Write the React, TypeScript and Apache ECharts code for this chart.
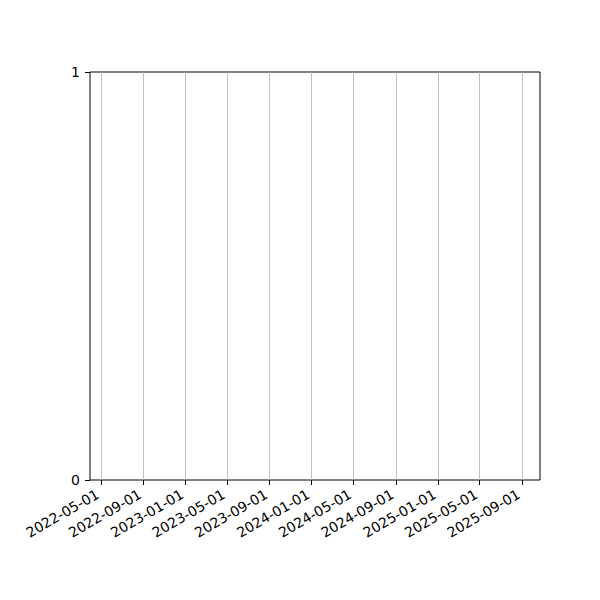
import React, { useEffect, useRef } from 'react'
import * as echarts from 'echarts'

// tick dates on the x axis
const tickDates = [
    '2022-05-01', '2022-09-01', '2023-01-01', '2023-05-01', '2023-09-01', '2024-01-01',
    '2024-05-01', '2024-09-01', '2025-01-01', '2025-05-01', '2025-09-01',
]
const xRange = ['2022-03-30', '2025-10-23']
const yTicks = [0, 1]

const toTime = (d: string) => Date.parse(d + 'T00:00:00Z')

const pad = (n: number) => (n < 10 ? '0' + n : '' + n)
const fmtDate = (v: number) => {
    const d = new Date(v)
    return d.getUTCFullYear() + '-' + pad(d.getUTCMonth() + 1) + '-' + pad(d.getUTCDate())
}

const App: React.FC = () => {
    const chartRef = useRef<HTMLDivElement | null>(null)

    useEffect(() => {
        if (!chartRef.current) return
        const chart = echarts.init(chartRef.current, null, { renderer: 'svg' })
        const ticks = tickDates.map(toTime)

        const option: any = {
            animation: false,
            textStyle: { fontFamily: 'DejaVu Sans' },
            // the grid border draws the black frame
            grid: {
                left: 82, right: 52, top: 64, bottom: 112,
                show: true, borderColor: '#000', borderWidth: 1, backgroundColor: 'transparent',
            },
            xAxis: {
                // dates kept as timestamps on a value scale
                type: 'value',
                min: toTime(xRange[0]),
                max: toTime(xRange[1]),
                axisLine: { show: false },
                axisTick: { show: true, length: 5, customValues: ticks, lineStyle: { color: '#000' } },
                axisLabel: {
                    customValues: ticks,
                    rotate: 30,
                    color: '#000',
                    fontSize: 14,
                    margin: 11,
                    padding: [0, 4, 0, 0],
                    showMinLabel: true,
                    showMaxLabel: true,
                    formatter: (v: number) => fmtDate(v),
                },
                splitLine: { show: true, lineStyle: { color: '#b0b0b0', width: 0.8 } },
            },
            yAxis: {
                type: 'value',
                min: yTicks[0],
                max: yTicks[yTicks.length - 1],
                interval: 1,
                axisLine: { show: false },
                axisTick: { show: true, length: 5, lineStyle: { color: '#000' } },
                axisLabel: { color: '#000', fontSize: 14, margin: 10 },
                splitLine: { show: false },
            },
            series: [
                { type: 'line', data: [] },
            ],
        }

        chart.setOption(option)
        return () => {
            chart.dispose()
        }
    }, [])

    return <div ref={chartRef} style={{ width: '584px', height: '584px' }} />
}

export default App
